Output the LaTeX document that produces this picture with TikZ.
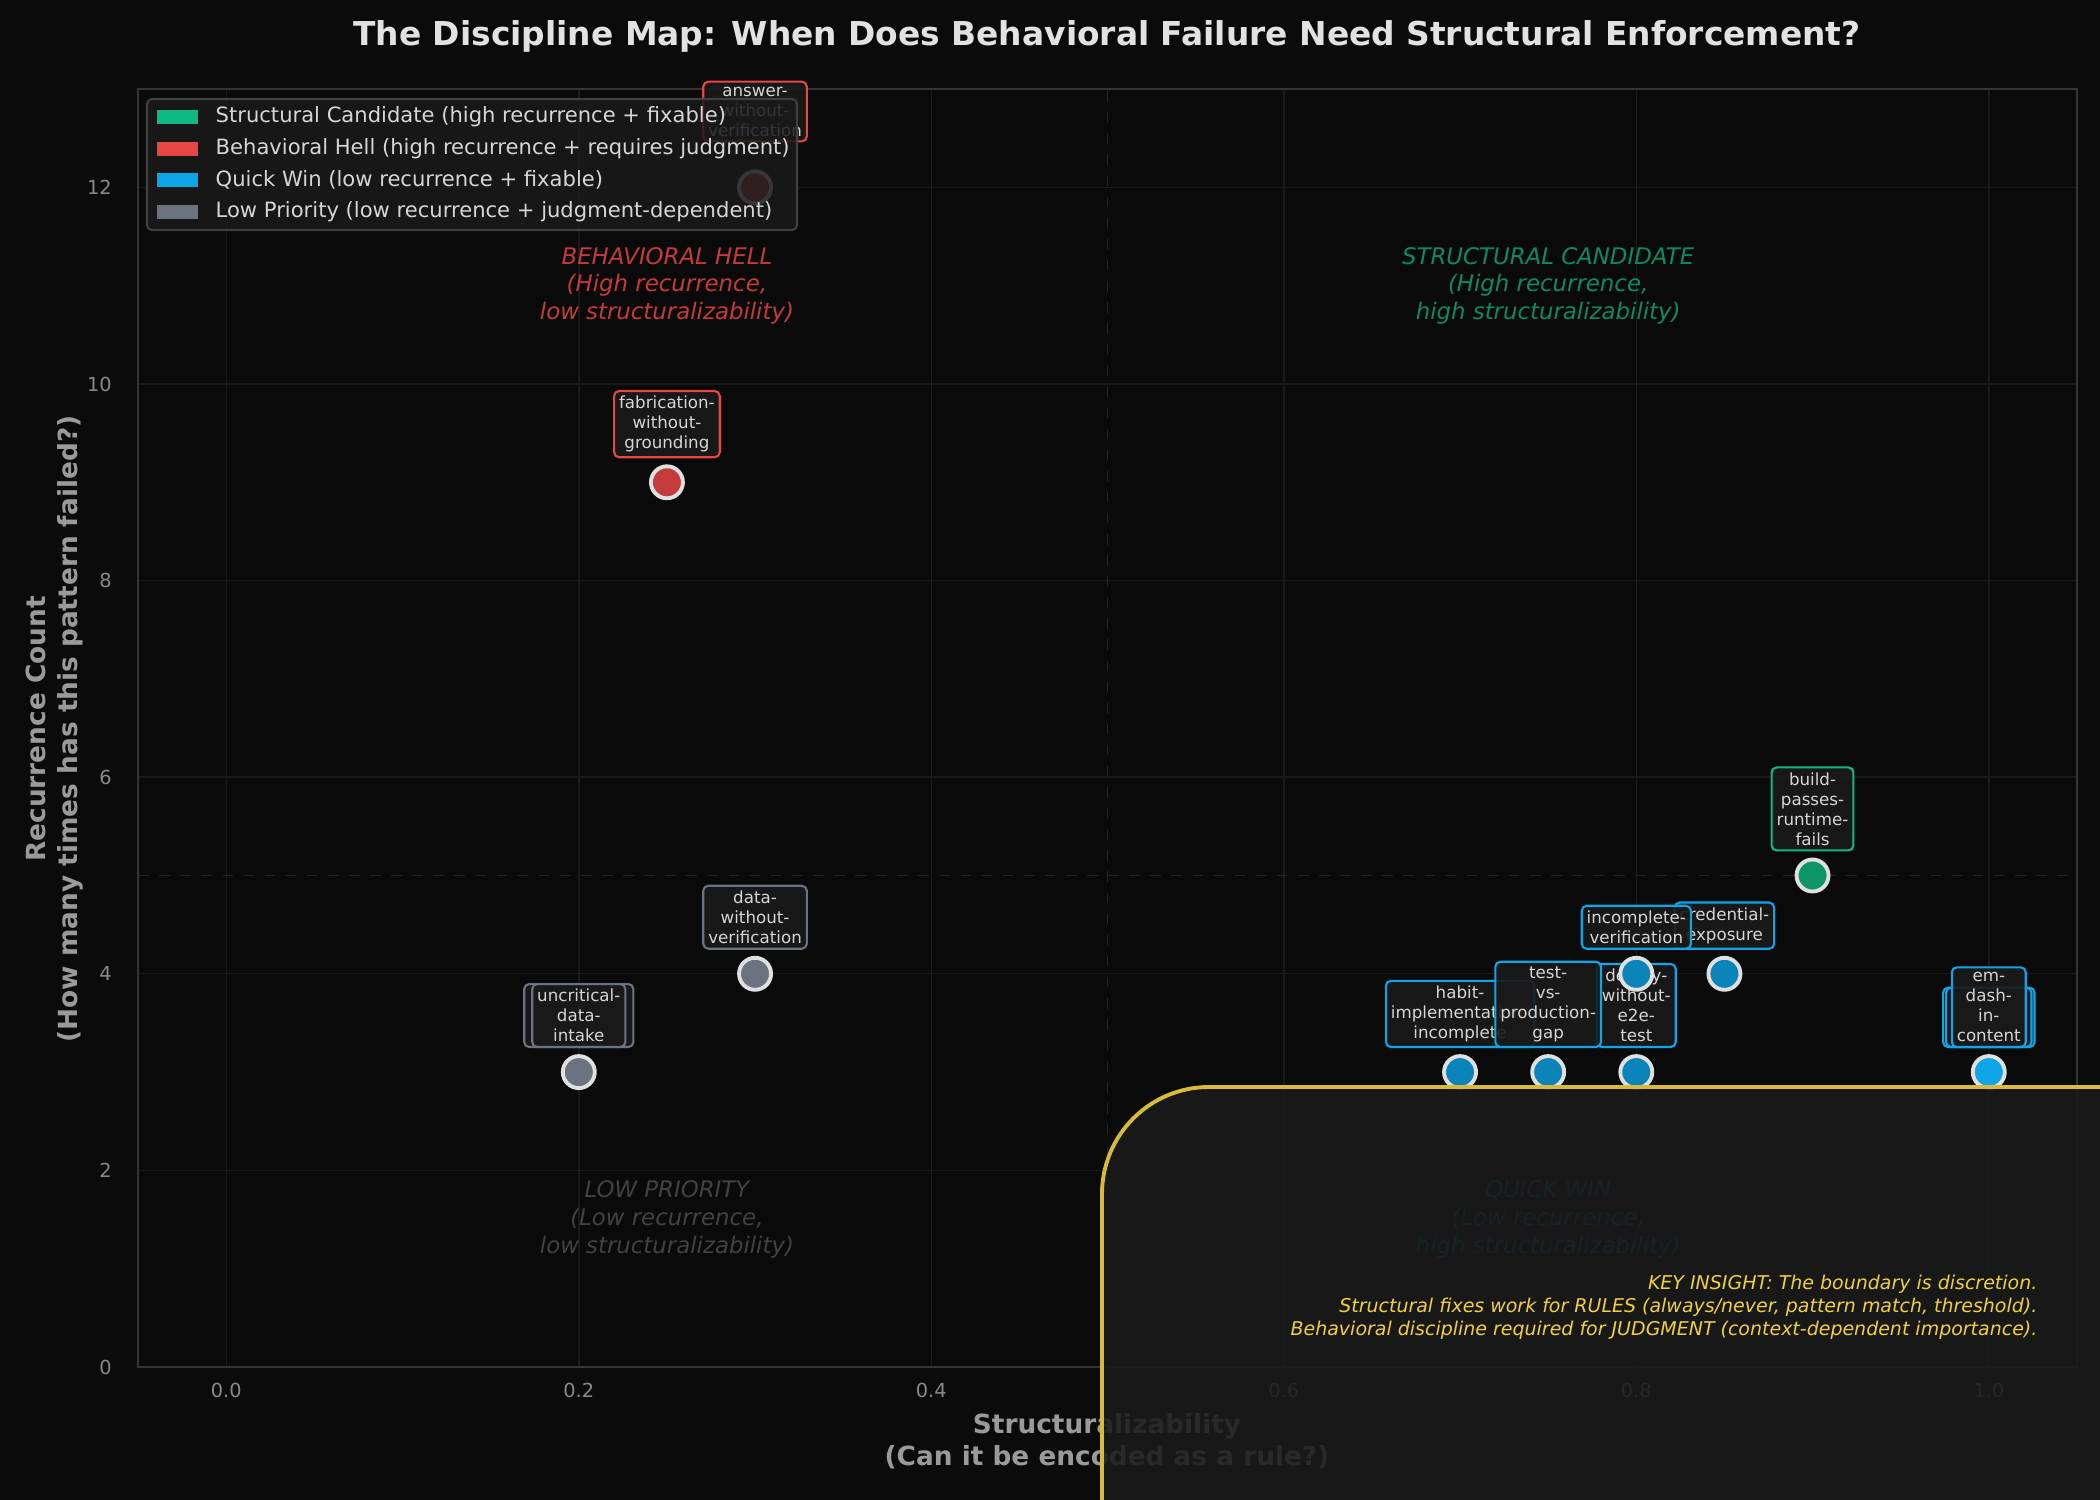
\documentclass[tikz,border=0pt]{standalone}
\usepackage{fontspec}
\setmainfont{DejaVu Sans}
\begin{document}
\definecolor{figbg}{HTML}{0B0B0B}
\definecolor{axbg}{HTML}{0A0A0A}
\definecolor{gridc}{HTML}{1A1A1A}
\definecolor{framec}{HTML}{353535}
\definecolor{tickc}{HTML}{8A8A8A}
\definecolor{labc}{HTML}{9A9A9A}
\definecolor{titc}{HTML}{E2E2E2}
\definecolor{boxbg}{HTML}{1A1A1A}
\definecolor{lbltext}{HTML}{D6D6D6}
\definecolor{greenc}{HTML}{10B981}
\definecolor{redc}{HTML}{E84545}
\definecolor{bluec}{HTML}{0EA5E9}
\definecolor{grayc}{HTML}{6B7280}
\definecolor{yelc}{HTML}{F0D040}
\begin{tikzpicture}[
  lbl/.style={draw=#1, fill=boxbg, fill opacity=0.9, text opacity=1, rounded corners=0.05cm,
    align=center, font=\fontsize{4.75}{5.7}\selectfont, text=lbltext, inner sep=0.05cm,
    anchor=south, line width=0.6pt},
  pt/.style={circle, draw=white!88!black, line width=1.1pt, fill=#1, minimum size=0.32cm, inner sep=0pt},
  quad/.style={align=center, font=\fontsize{6.5}{7.9}\selectfont\itshape, text=#1},
  tick/.style={font=\fontsize{5.5}{6}\selectfont, text=tickc},
  leg/.style={anchor=west, font=\fontsize{6}{7}\selectfont, text=lbltext, inner sep=0pt},
  grid/.style={gridc, line width=0.4pt}
]
\useasboundingbox (0,0) rectangle (21,15);
\fill[figbg] (0,0) rectangle (21,15);
\node[font=\fontsize{9.35}{11}\selectfont\bfseries, text=titc] (title) at (11.07,14.64)
  {The Discipline Map: When Does Behavioral Failure Need Structural Enforcement?};
\begin{scope}[shift={(2.263,1.33)}, x=17.625cm, y=0.983cm]
  \fill[axbg] (-0.05,0) rectangle (1.05,13);
  \foreach \v in {0,0.2,0.4,0.6,0.8,1.0} \draw[grid] (\v,0) -- (\v,13);
  \foreach \v in {2,4,...,12} \draw[grid] (-0.05,\v) -- (1.05,\v);
  \draw[framec!70!black, dashed, line width=0.5pt] (0.5,0) -- (0.5,13);
  \draw[framec!70!black, dashed, line width=0.5pt] (-0.05,5) -- (1.05,5);
  \draw[framec, line width=0.7pt] (-0.05,0) rectangle (1.05,13);
  \foreach \v/\t in {0/0.0,0.2/0.2,0.4/0.4,0.6/0.6,0.8/0.8,1.0/1.0}
    \node[tick] at (\v,-0.24) {\t};
  \foreach \v in {0,2,...,12}
    \node[tick, anchor=east] at (-0.058,\v) {\v};
  \node[quad=redc!85!black] (qbh) at (0.25,11) {BEHAVIORAL HELL\\(High recurrence,\\low structuralizability)};
  \node[quad=greenc!75!black] (qsc) at (0.75,11) {STRUCTURAL CANDIDATE\\(High recurrence,\\high structuralizability)};
  \node[quad=white!26!black] (qlp) at (0.25,1.5) {LOW PRIORITY\\(Low recurrence,\\low structuralizability)};
  \node[quad=bluec!60!black] (qqw) at (0.75,1.5) {QUICK WIN\\(Low recurrence,\\high structuralizability)};
  \coordinate (cA) at (0.3,12);
  \coordinate (cF) at (0.25,9);
  \coordinate (cD) at (0.3,4);
  \coordinate (cU) at (0.2,3);
  \coordinate (cH) at (0.7,3);
  \coordinate (cT) at (0.75,3);
  \coordinate (cE) at (0.8,3);
  \coordinate (cI) at (0.8,4);
  \coordinate (cC) at (0.85,4);
  \coordinate (cB) at (0.9,5);
  \coordinate (cM) at (1.0,3);
\end{scope}
\node[lbl=redc] (lF) at ([yshift=0.24cm]cF) {fabrication-\\without-\\grounding};
\node[lbl=grayc] (lD) at ([yshift=0.24cm]cD) {data-\\without-\\verification};
\node[lbl=grayc, inner xsep=0.13cm] (lUb) at ([yshift=0.24cm]cU) {\phantom{uncritical-}\\\phantom{data-}\\\phantom{intake}};
\node[lbl=grayc] (lU) at ([yshift=0.24cm]cU) {uncritical-\\data-\\intake};
\node[lbl=greenc] (lB) at ([yshift=0.24cm]cB) {build-\\passes-\\runtime-\\fails};
\node[lbl=bluec] (lC) at ([yshift=0.24cm]cC) {credential-\\exposure};
\node[lbl=bluec] (lI) at ([yshift=0.24cm]cI) {incomplete-\\verification};
\node[lbl=bluec] (lH) at ([yshift=0.24cm]cH) {habit-\\implementation-\\incomplete};
\node[lbl=bluec] (lE) at ([yshift=0.24cm]cE) {deploy-\\without-\\e2e-\\test};
\node[lbl=bluec] (lT) at ([yshift=0.24cm]cT) {test-\\vs-\\production-\\gap};
\node[lbl=bluec] (lMb) at ([yshift=0.24cm]cM) {\phantom{recovery\_}\\\phantom{x}\\\phantom{x}};
\node[lbl=bluec, inner xsep=0.02cm] (lMc) at ([yshift=0.24cm]cM) {\phantom{recovery\_}\\\phantom{x}\\\phantom{x}};
\node[lbl=bluec] (lM) at ([yshift=0.24cm]cM) {em-\\dash-\\in-\\content};
\node[pt=redc!80!black] (pA) at (cA) {};
\node[pt=redc!85!black] (pF) at (cF) {};
\node[pt=grayc] (pD) at (cD) {};
\node[pt=grayc] (pU) at (cU) {};
\node[pt=bluec!80!black] (pH) at (cH) {};
\node[pt=bluec!80!black] (pT) at (cT) {};
\node[pt=bluec!80!black] (pE) at (cE) {};
\node[pt=bluec!80!black] (pI) at (cI) {};
\node[pt=bluec!80!black] (pC) at (cC) {};
\node[pt=greenc!80!black] (pB) at (cB) {};
\node[pt=bluec] (pM) at (cM) {};
\node[lbl=redc] (lA) at ([yshift=0.45cm]cA) {answer-\\without-\\verification};
\draw[fill=boxbg, fill opacity=0.85, draw=white!25!black, line width=0.6pt, rounded corners=0.05cm]
  (1.47,12.70) rectangle (7.97,14.01);
\foreach \yy/\cc/\tt [count=\i] in {13.83/greenc/Structural Candidate (high recurrence + fixable),
  13.51/redc/Behavioral Hell (high recurrence + requires judgment),
  13.20/bluec/Quick Win (low recurrence + fixable),
  12.88/grayc/Low Priority (low recurrence + judgment-dependent)}{
  \fill[\cc] (1.57,\yy-0.07) rectangle (1.98,\yy+0.07);
  \node[leg] (leg\i) at (2.15,\yy) {\tt};
}
\node[font=\fontsize{7.5}{9}\selectfont\bfseries, text=labc, align=center] (xl) at (11.07,0.585)
  {Structuralizability\\(Can it be encoded as a rule?)};
\node[font=\fontsize{7.5}{9}\selectfont\bfseries, text=labc, align=center, rotate=90] (yl) at (0.545,7.71)
  {Recurrence Count\\(How many times has this pattern failed?)};
\begin{scope}
\clip (0,0) rectangle (21,15);
\draw[draw=yelc!90!black, fill=boxbg, fill opacity=0.88, line width=1.1pt, rounded corners=1.07cm]
  (11.02,-1.5) rectangle (22.5,4.13);
\end{scope}
\node[anchor=east, align=right, text=yelc, font=\fontsize{5.4}{6.5}\selectfont\itshape, inner sep=0pt] (key) at (20.38,1.93)
  {KEY INSIGHT: The boundary is discretion.\\Structural fixes work for RULES (always/never, pattern match, threshold).\\Behavioral discipline required for JUDGMENT (context-dependent importance).};
\end{tikzpicture}
\end{document}
